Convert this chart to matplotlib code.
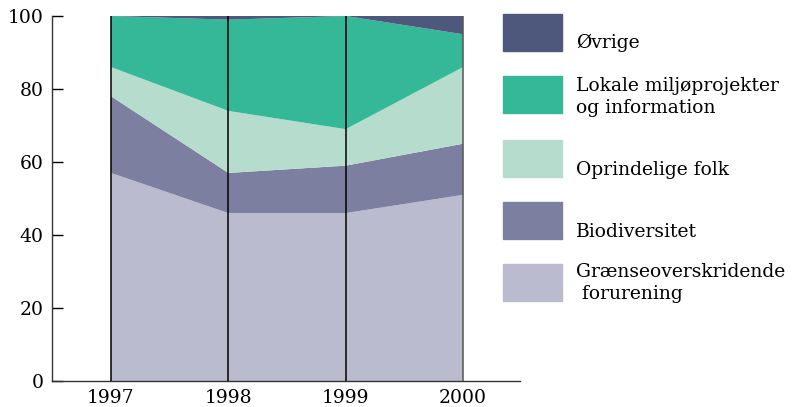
import matplotlib.pyplot as plt
import matplotlib.patches as mpatches

# Data (percent shares)
years = [1997, 1998, 1999, 2000]
graense = [57, 46, 46, 51]
biodiv = [21, 11, 13, 14]
oprindelige = [8, 17, 10, 21]
lokale = [14, 25, 31, 9]
ovrige = [0, 1, 0, 5]

colors = ["#babbce", "#7c7f9f", "#b5dccc", "#34b898", "#4e577c"]
yticks = [0, 20, 40, 60, 80, 100]

plt.rcParams['font.family'] = ['DejaVu Serif']

fig = plt.figure(figsize=(7.93, 4.07), dpi=100)
ax = fig.add_axes([0.0656, 0.0639, 0.5902, 0.8968])

ax.stackplot(years, graense, biodiv, oprindelige, lokale, ovrige,
             colors=colors, linewidth=0)

for yr in years:
    ax.axvline(yr, color="black" if yr != 2000 else "#555555", lw=1.1, zorder=3)

ax.set_xlim(1996.497, 2000.486)
ax.set_ylim(0, 100)
ax.set_xticks(years)
ax.set_yticks(yticks)
ax.tick_params(axis='x', length=0, labelsize=13.5, pad=6)
ax.tick_params(axis='y', direction='in', length=8, width=1, labelsize=13.5, pad=6)
ax.spines['top'].set_visible(False)
ax.spines['right'].set_visible(False)
for s in ['left', 'bottom']:
    ax.spines[s].set_color("#333333")
    ax.spines[s].set_linewidth(1)

# Legend drawn by hand, top to bottom
W, H = 793, 407
leg_boxes = [14, 76, 140, 202, 264]   # top pixel of each swatch
leg_text = [(43, "Øvrige"), (97, "Lokale miljøprojekter\nog information"),
            (170, "Oprindelige folk"), (232, "Biodiversitet"),
            (283, "Grænseoverskridende\n forurening")]
leg_colors = colors[::-1]
for top, c in zip(leg_boxes, leg_colors):
    fig.patches.append(mpatches.Rectangle((503 / W, 1 - (top + 37) / H), 59 / W, 37 / H,
                                          transform=fig.transFigure, color=c))
for yc, t in leg_text:
    fig.text(576 / W, 1 - yc / H, t, fontsize=13.5, va='center', ha='left',
             linespacing=1.32)

fig.savefig("out.png", dpi=100)
